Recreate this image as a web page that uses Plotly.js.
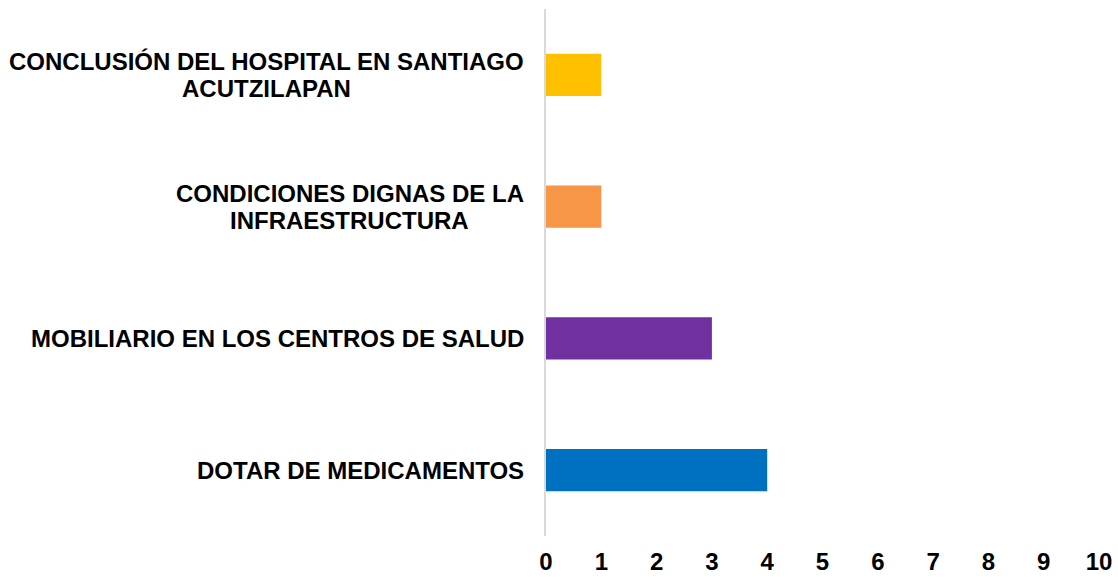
<!DOCTYPE html>
<html><head><meta charset="utf-8">
<script src="https://cdn.plot.ly/plotly-3.0.1.min.js"></script>
<style>html,body{margin:0;padding:0;background:#fff}#c{width:1118px;height:577px}</style>
</head><body><div id="c"></div>
<script>
const categories = ["DOTAR DE MEDICAMENTOS","MOBILIARIO EN LOS CENTROS DE SALUD","CONDICIONES DIGNAS DE LA<br>INFRAESTRUCTURA","CONCLUSIÓN DEL HOSPITAL EN SANTIAGO<br>ACUTZILAPAN"];
const values = [4,3,1,1];
const colors = ["#0070C0","#7030A0","#F79646","#FFC000"];
const xTicks = [0,1,2,3,4,5,6,7,8,9,10];

const font = {family:"Liberation Sans, Arial, sans-serif", size:24, color:"#000"};
const lineGap = 27;
const annotations = [];
categories.forEach(c => {
  const lines = c.split("<br>");
  // compute width of the widest line to center lines under each other
  lines.forEach((ln, i) => {
    const shift = ((lines.length - 1) / 2 - i) * lineGap;
    annotations.push({
      text:"<b>"+ln+"</b>", x:0, xref:"paper", y:c, yref:"y",
      xanchor:"center", yanchor:"middle", yshift:shift,
      showarrow:false, font:font, _line:ln, _cat:c
    });
  });
});

const layout = {
  width:1118, height:577,
  margin:{l:546, r:19, t:9, b:41, pad:0},
  bargap:0.68,
  paper_bgcolor:"#fff", plot_bgcolor:"#fff",
  showlegend:false,
  xaxis:{range:[0,10], tickvals:xTicks, ticktext:xTicks.map(v=>"<b>"+v+"</b>"),
    showgrid:false, zeroline:false, showline:false, ticks:"",
    tickfont:font, ticklabelstandoff:9, fixedrange:true},
  yaxis:{type:"category", categoryarray:categories, showticklabels:false,
    showgrid:false, zeroline:false, showline:true, linecolor:"#D9D9D9", linewidth:2,
    ticks:"", range:[-0.5,3.5], fixedrange:true},
  annotations:[]
};

// measure text widths so multi-line labels are centred on each other and right-aligned at the axis
const cv = document.createElement("canvas").getContext("2d");
cv.font = "bold 24px 'Liberation Sans', Arial, sans-serif";
const rightEdge = -22; // px from plot left
const widest = {};
categories.forEach(c => { widest[c] = Math.max(...c.split("<br>").map(l => cv.measureText(l).width)); });
layout.annotations = annotations.map(a => {
  const w = widest[a._cat];
  const o = Object.assign({}, a);
  delete o._line; delete o._cat;
  o.xshift = rightEdge - w / 2;
  return o;
});

Plotly.newPlot("c", [{
  type:"bar", orientation:"h", y:categories, x:values,
  marker:{color:colors}, hoverinfo:"none"
}], layout, {displayModeBar:false, staticPlot:true});
</script></body></html>
